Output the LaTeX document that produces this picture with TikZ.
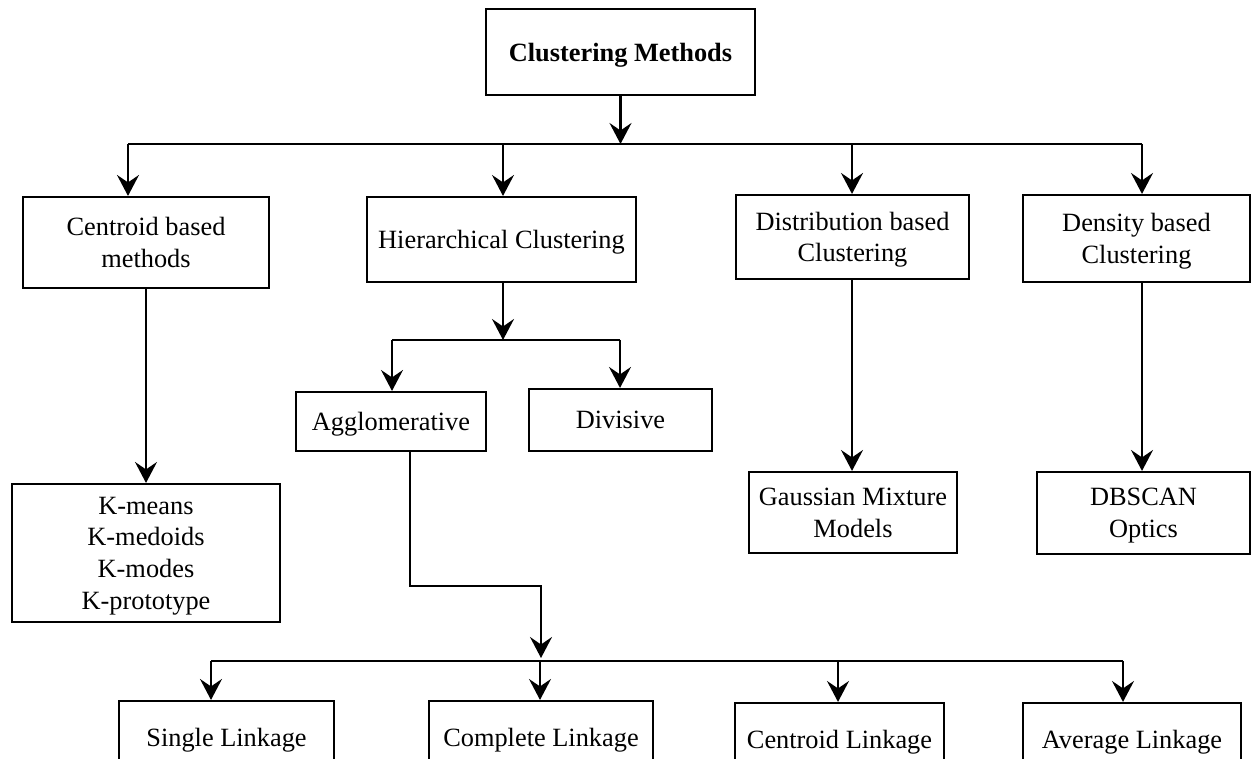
\documentclass[tikz,border=0pt]{standalone}
\usepackage{fontspec}
\setmainfont{Liberation Serif}
\usetikzlibrary{arrows.meta}

\begin{document}
\begin{tikzpicture}[x=0.02cm, y=-0.02cm,
    every node/.style={font=\fontsize{15}{18}\selectfont},
    box/.style={draw, line width=1.2pt, inner sep=0pt, align=center, text depth=0pt},
    arr/.style={line width=1.2pt, -{Stealth[length=0.42cm, width=0.44cm, inset=0.15cm]}},
    bus/.style={line width=1.2pt}]
  \useasboundingbox (0,0) rectangle (1254,759);
  \clip (0,0) rectangle (1254,759);
  % top level
  \node[box, minimum width=5.38cm, minimum height=1.72cm, font=\fontsize{15}{18}\selectfont\bfseries] (top) at (620.5,52) {Clustering Methods};
  \node[box, minimum width=4.92cm, minimum height=1.82cm] (cent) at (146,242.5) {Centroid based\\methods};
  \node[box, minimum width=5.38cm, minimum height=1.70cm] (hier) at (501.5,239.5) {Hierarchical Clustering};
  \node[box, minimum width=4.66cm, minimum height=1.68cm] (dist) at (852.5,237) {Distribution based\\Clustering};
  \node[box, minimum width=4.54cm, minimum height=1.74cm] (dens) at (1136.5,238.5) {Density based\\Clustering};
  % second level
  \node[box, minimum width=5.36cm, minimum height=2.76cm] (kmeans) at (146,553) {K-means\\K-medoids\\K-modes\\K-prototype};
  \node[box, minimum width=3.80cm, minimum height=1.18cm] (aggl) at (391,421.5) {Agglomerative};
  \node[box, minimum width=3.66cm, minimum height=1.24cm] (divi) at (620.5,420) {Divisive};
  \node[box, minimum width=4.16cm, minimum height=1.62cm] (gmm) at (853,512.5) {Gaussian Mixture\\Models};
  \node[box, minimum width=4.26cm, minimum height=1.64cm] (dbscan) at (1143.5,513) {DBSCAN\\Optics};
  % linkage
  \node[box, minimum width=4.30cm, minimum height=1.44cm] (single) at (226.5,737) {Single Linkage};
  \node[box, minimum width=4.48cm, minimum height=1.44cm] (complete) at (541,737) {Complete Linkage};
  \node[box, minimum width=4.18cm, minimum height=1.44cm] (centlink) at (839.5,739) {Centroid Linkage};
  \node[box, minimum width=4.36cm, minimum height=1.44cm] (avglink) at (1132,739) {Average Linkage};

  % buses
  \coordinate (b0) at (620.5,144);
  \coordinate (b1) at (128,144);
  \coordinate (b2) at (503,144);
  \coordinate (b3) at (852,144);
  \coordinate (b4) at (1142,144);
  \coordinate (h0) at (503,340);
  \coordinate (h1) at (392,340);
  \coordinate (h2) at (620,340);
  \coordinate (e1) at (410,586);
  \coordinate (e2) at (541,586);
  \coordinate (l0) at (541,658);
  \coordinate (l1) at (211,661);
  \coordinate (l2) at (540,661);
  \coordinate (l3) at (838,661);
  \coordinate (l4) at (1123,661);

  \draw[arr] (top.south) -- (b0);
  \draw[bus] (b1) -- (b4);
  \draw[arr] (b1) -- (b1 |- cent.north);
  \draw[arr] (b2) -- (b2 |- hier.north);
  \draw[arr] (b3) -- (b3 |- dist.north);
  \draw[arr] (b4) -- (b4 |- dens.north);

  \draw[arr] (cent.south) -- (kmeans.north);
  \draw[arr] (b3 |- dist.south) -- (b3 |- gmm.north);
  \draw[arr] (b4 |- dens.south) -- (b4 |- dbscan.north);

  \draw[arr] (h0 |- hier.south) -- (h0);
  \draw[bus] (h1) -- (h2);
  \draw[arr] (h1) -- (h1 |- aggl.north);
  \draw[arr] (h2) -- (h2 |- divi.north);

  \draw[arr] (e1 |- aggl.south) -- (e1) -- (e2) -- (l0);
  \draw[bus] (l1) -- (l4);
  \draw[arr] (l1) -- (l1 |- single.north);
  \draw[arr] (l2) -- (l2 |- complete.north);
  \draw[arr] (l3) -- (l3 |- centlink.north);
  \draw[arr] (l4) -- (l4 |- avglink.north);
\end{tikzpicture}
\end{document}
